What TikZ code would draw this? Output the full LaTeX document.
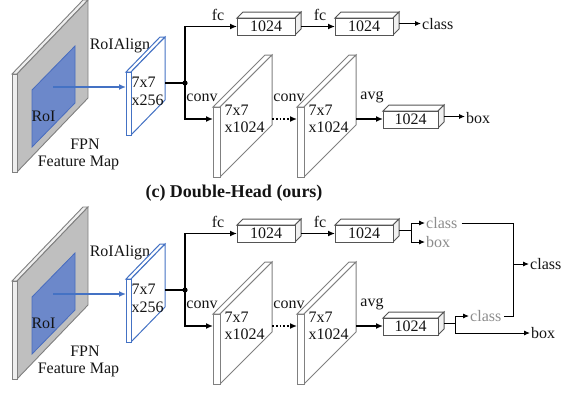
\documentclass[tikz,border=0pt]{standalone}
\usepackage{fontspec}
\setmainfont{Liberation Serif}
\usetikzlibrary{arrows.meta,calc}
\definecolor{fpnside}{RGB}{191,191,191}
\definecolor{fpnfr}{RGB}{238,238,238}
\definecolor{slabln}{RGB}{128,128,128}
\definecolor{roifill}{RGB}{108,136,202}
\definecolor{roiln}{RGB}{72,108,190}
\definecolor{bluln}{RGB}{68,114,196}
\definecolor{gtext}{RGB}{140,140,140}
\definecolor{boxln}{RGB}{85,85,85}
\definecolor{txt}{RGB}{20,20,20}
\tikzset{
  lbl/.style={font=\fontsize{16}{17}\selectfont, inner sep=0pt, text=txt},
  glbl/.style={lbl, text=gtext},
  conn/.style={line width=1.8pt, -{Latex[length=7pt,width=6pt]}},
  connb/.style={line width=1.8pt},
  dotconn/.style={line width=1.8pt, dotted, -{Latex[length=7pt,width=6pt]}},
  outa/.style={line width=0.9pt, -{Latex[length=6pt,width=5pt]}},
  outl/.style={line width=0.9pt},
  bluearr/.style={line width=1.4pt, draw=bluln, -{Latex[length=7pt,width=6pt]}},
  fpnfront/.style={draw=slabln, line width=0.9pt, fill=fpnfr},
  fpnsidest/.style={draw=slabln, line width=0.9pt, fill=fpnside},
  bluefront/.style={draw=bluln, line width=1pt, fill=white},
  convfront/.style={draw=slabln, line width=1pt, fill=white},
  boxfront/.style={draw=boxln, line width=1pt, fill=white},
  boxside/.style={draw=boxln, line width=1pt, fill=black!6},
  roist/.style={draw=roiln, line width=0.8pt, fill=roifill},
}
% #1 name #2 x #3 y #4 w #5 h #6 dx #7 dy #8 front/top style #9 side style
\newcommand{\mycub}[9]{%
  \draw[#8] (#2,#3) -- ++(#6,-#7) -- ++(#4,0) -- ++(-#6,#7) -- cycle;
  \draw[#9] (#2+#4,#3) -- ++(#6,-#7) -- ++(0,#5) -- ++(-#6,#7) -- cycle;
  \node[#8, minimum width=#4, minimum height=#5, inner sep=0pt, outer sep=0pt, anchor=north west] (#1) at (#2,#3) {};
  \coordinate (#1-e) at (#2+#4+#6, #3+#5/2-#7/2);
}
% #1 prefix, #2 y offset
\newcommand{\mypanel}[2]{%
\begin{scope}[yshift=-#2pt]
  \mycub{#1fpn}{12}{74}{5}{98}{71}{74}{fpnfront}{fpnsidest}
  \draw[roist] (32,90) -- (75,46) -- (75,103) -- (32,147) -- cycle;
  \node[lbl] (#1roit) at (43.5,116) {RoI};
  \node[lbl] (#1fpnt) at (85,144) {FPN};
  \node[lbl] (#1fmt) at (78.5,163) {Feature Map};
  \node[lbl] (#1alignt) at (120,46) {RoIAlign};
  \mycub{#1blue}{126}{72}{5}{63}{34}{35}{bluefront}{bluefront}
  \node[lbl, align=left, anchor=west] (#1bluet) at (131.5,91) {7x7\\[1pt]x256};
  \coordinate (#1roic) at (53,87);
  \draw[bluearr] (#1roic) -- (#1blue.west |- #1roic);
  % fc branch
  \mycub{#1box1}{237}{18}{58}{17}{6}{6}{boxfront}{boxside}
  \node[lbl] (#1box1t) at (#1box1) {1024};
  \mycub{#1box2}{335}{18}{58}{17}{6}{6}{boxfront}{boxside}
  \node[lbl] (#1box2t) at (#1box2) {1024};
  \node[lbl] (#1fca) at (218,15) {fc};
  \node[lbl] (#1fcb) at (320,15) {fc};
  % conv branch
  \mycub{#1conv1}{213}{107}{7}{70}{52}{52}{convfront}{convfront}
  \node[lbl, align=left, anchor=west] (#1conv1t) at (224.5,118.5) {7x7\\x1024};
  \mycub{#1conv2}{297}{107}{7}{70}{52}{52}{convfront}{convfront}
  \node[lbl, align=left, anchor=west] (#1conv2t) at (308.5,118.5) {7x7\\x1024};
  \node[lbl] (#1convla) at (202,98) {conv};
  \node[lbl] (#1convlb) at (289,98) {conv};
  \node[lbl] (#1avgl) at (372,97) {avg};
  \mycub{#1avg}{383}{111}{55}{17}{6}{6}{boxfront}{boxside}
  \node[lbl] (#1avgt) at (#1avg) {1024};
  % connectors
  \coordinate (#1j) at (185,83);
  \coordinate (#1row) at (0,119);
  \draw[connb] (#1blue-e |- #1j) -- (#1j);
  \fill (#1j) circle (2.6pt);
  \draw[conn] (#1j) |- (#1box1.west);
  \draw[conn] (#1j) |- (#1conv1.west |- #1row);
  \draw[conn] (#1box1-e |- #1box2.west) -- (#1box2.west);
  \draw[dotconn] (#1conv1-e |- #1row) -- (#1conv2.west |- #1row);
  \draw[conn] (#1conv2-e |- #1row) -- (#1avg.west |- #1row);
\end{scope}}
\begin{document}
\begin{tikzpicture}[x=1pt,y=-1pt]
\useasboundingbox (0,0) rectangle (561,392);
\clip (0,0) rectangle (561,392);
\mypanel{t}{0}
\mypanel{b}{207}
% top head
\node[lbl, anchor=west] (tclass) at (422,24) {class};
\draw[outa] (tbox2-e) -- ([xshift=-1pt]tclass.west |- tbox2-e);
\node[lbl, anchor=west] (tboxl) at (466,118) {box};
\draw[outa] (tavg-e) -- ([xshift=-1pt]tboxl.west |- tavg-e);
% title
\node[font=\fontsize{18}{20}\selectfont\bfseries, inner sep=0pt, text=txt] (title) at (234,193) {(c) Double-Head (ours)};
% bottom head
\coordinate (bf1) at ($(bbox2-e)+(12,0)$);
\node[glbl, anchor=west] (gc1) at (426,223) {class};
\node[glbl, anchor=west] (gb1) at (426,242) {box};
\draw[outl] (bbox2-e) -- (bf1);
\draw[outa] (bf1) |- ([xshift=-1pt]gc1.west);
\draw[outa] (bf1) |- ([xshift=-1pt]gb1.west);
\coordinate (bf2) at ($(bavg-e)+(11,0)$);
\node[glbl, anchor=west] (gc2) at (470,316) {class};
\node[lbl, anchor=west] (fbox) at (531,333) {box};
\draw[outl] (bavg-e) -- (bf2);
\draw[outa] (bf2) |- ([xshift=-1pt]gc2.west);
\draw[outa] (bf2) |- ([xshift=-1pt]fbox.west);
\coordinate (mx) at (513,264);
\node[lbl, anchor=west] (fclass) at (530,264) {class};
\draw[outl] ([xshift=4pt]gc1.east) -| (mx |- gc2.east) -- ([xshift=2pt]gc2.east);
\draw[outa] (mx) -- ([xshift=-1pt]fclass.west);
\end{tikzpicture}
\end{document}
